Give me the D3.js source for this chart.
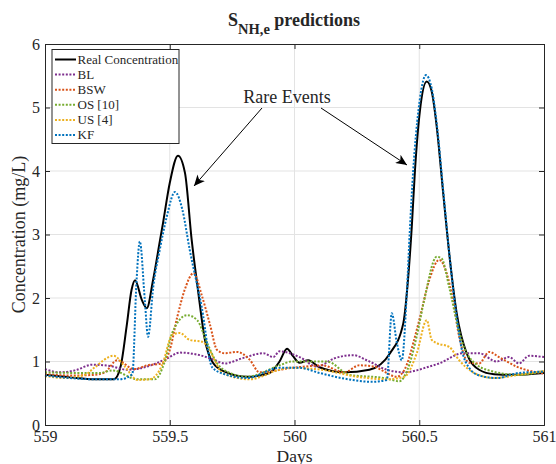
<!DOCTYPE html>
<html>
<head>
<meta charset="utf-8">
<script src="https://cdn.jsdelivr.net/npm/d3@7"></script>
<style>
body { margin: 0; background: #fff; }
text { font-family: "Liberation Serif", "Times New Roman", serif; fill: #262626; }
</style>
</head>
<body>
<div id="chart"></div>
<script>
// [day, mg/L]
var realConc = [[559,0.79],[559.1,0.75],[559.2,0.72],[559.277,0.72],[559.303,0.92],[559.327,1.55],[559.347,2.13],[559.361,2.28],[559.388,1.97],[559.408,1.84],[559.433,2.28],[559.461,2.91],[559.473,3.18],[559.5,3.81],[559.533,4.24],[559.561,3.97],[559.588,2.91],[559.613,2.13],[559.641,1.34],[559.673,0.98],[559.72,0.84],[559.81,0.76],[559.9,0.82],[559.94,1.0],[559.97,1.2],[559.995,1.08],[560.02,0.98],[560.055,1.02],[560.1,0.91],[560.2,0.83],[560.3,0.87],[560.383,1.13],[560.436,1.6],[560.456,2.34],[560.47,3.12],[560.483,4.02],[560.503,4.96],[560.53,5.41],[560.55,5.25],[560.57,4.7],[560.596,3.65],[560.623,2.6],[560.65,1.76],[560.69,1.13],[560.74,0.87],[560.8,0.8],[560.876,0.79],[561,0.82]];
var bl = [[559,0.88],[559.06,0.83],[559.12,0.86],[559.19,0.95],[559.26,0.93],[559.33,0.87],[559.41,0.92],[559.49,1.05],[559.54,1.14],[559.62,1.1],[559.675,1.03],[559.72,0.97],[559.79,1.05],[559.875,1.13],[559.915,1.07],[559.94,1.16],[560.02,1.07],[560.09,0.92],[560.16,1.05],[560.235,1.1],[560.29,1.02],[560.37,0.87],[560.44,0.83],[560.54,0.92],[560.58,0.97],[560.675,1.13],[560.74,1.13],[560.81,1.0],[560.86,1.07],[560.9,0.97],[560.94,1.09],[561,1.07]];
var bsw = [[559,0.8],[559.1,0.78],[559.2,0.79],[559.24,0.83],[559.29,1.02],[559.357,0.88],[559.41,0.94],[559.47,0.97],[559.5,1.18],[559.53,1.7],[559.56,2.13],[559.595,2.39],[559.63,2.02],[559.66,1.6],[559.69,1.18],[559.72,1.13],[559.77,1.15],[559.82,1.03],[559.86,0.83],[559.99,0.9],[560.07,0.93],[560.11,0.94],[560.2,0.83],[560.26,0.94],[560.32,0.92],[560.36,0.84],[560.41,0.76],[560.45,0.95],[560.48,1.35],[560.5,1.65],[560.54,2.28],[560.58,2.6],[560.61,2.39],[560.635,1.97],[560.66,1.39],[560.7,0.98],[560.74,0.97],[560.78,1.15],[560.82,1.07],[560.89,0.92],[561,0.81]];
var os10 = [[559,0.83],[559.13,0.82],[559.22,0.82],[559.27,0.86],[559.37,0.72],[559.44,0.72],[559.48,1.0],[559.51,1.45],[559.57,1.73],[559.61,1.65],[559.65,1.29],[559.69,0.97],[559.72,0.86],[559.81,0.76],[559.94,0.94],[559.99,1.0],[560.13,1.0],[560.22,0.79],[560.36,0.74],[560.42,0.69],[560.46,0.95],[560.49,1.4],[560.52,1.97],[560.57,2.65],[560.59,2.62],[560.62,2.17],[560.655,1.55],[560.69,1.13],[560.77,0.87],[560.9,0.79],[561,0.85]];
var us4 = [[559,0.77],[559.08,0.74],[559.16,0.79],[559.2,0.91],[559.275,1.09],[559.32,0.92],[559.37,0.71],[559.42,0.72],[559.47,0.95],[559.51,1.42],[559.54,1.45],[559.58,1.34],[559.63,1.31],[559.66,1.18],[559.685,0.98],[559.71,0.82],[559.82,0.72],[559.94,0.87],[559.98,0.9],[560.11,0.87],[560.25,0.76],[560.37,0.72],[560.44,0.76],[560.49,1.13],[560.53,1.65],[560.55,1.34],[560.57,1.29],[560.62,1.23],[560.66,1.02],[560.72,0.82],[560.8,0.74],[560.9,0.79],[561,0.85]];
var kf = [[559,0.78],[559.1,0.74],[559.2,0.72],[559.3,0.72],[559.35,0.8],[559.367,2.28],[559.38,2.89],[559.4,1.97],[559.413,1.39],[559.434,2.18],[559.46,2.76],[559.488,3.28],[559.521,3.67],[559.55,3.4],[559.58,2.76],[559.628,1.86],[559.67,0.91],[559.72,0.8],[559.81,0.74],[559.94,0.9],[560.02,0.9],[560.1,0.82],[560.2,0.73],[560.31,0.68],[560.37,0.71],[560.39,1.76],[560.41,1.3],[560.43,1.02],[560.45,2.07],[560.463,3.12],[560.476,4.02],[560.497,4.96],[560.527,5.51],[560.55,5.3],[560.57,4.75],[560.596,3.7],[560.623,2.6],[560.65,1.7],[560.67,1.2],[560.7,0.9],[560.74,0.78],[560.81,0.74],[560.9,0.82],[561,0.84]];

var seriesNames = ["Real Concentration", "BL", "BSW", "OS [10]", "US [4]", "KF"];
var seriesColors = ["#000000", "#7E2F8E", "#D95319", "#77AC30", "#EDB120", "#0072BD"];
var xTicks = [559, 559.5, 560, 560.5, 561];
var yTicks = [0, 1, 2, 3, 4, 5, 6];

var width = 556, height = 464;
var margin = {top: 44, right: 12, bottom: 39, left: 45};
var axisColor = "#262626";

var svg = d3.select("#chart")
    .append("svg")
        .attr("width", width)
        .attr("height", height)

var x = d3.scaleLinear().domain([559, 561]).range([margin.left, width - margin.right])
var y = d3.scaleLinear().domain([0, 6]).range([height - margin.bottom, margin.top])

// grid
svg.append("g")
    .selectAll("line.gx")
    .data(xTicks.slice(1, -1))
    .enter().append("line")
        .attr("x1", function(d) { return x(d) })
        .attr("x2", function(d) { return x(d) })
        .attr("y1", y(0))
        .attr("y2", y(6))
        .attr("stroke", "#e3e3e3")
        .attr("stroke-width", 1)

svg.append("g")
    .selectAll("line.gy")
    .data(yTicks.slice(1, -1))
    .enter().append("line")
        .attr("x1", x(559))
        .attr("x2", x(561))
        .attr("y1", function(d) { return y(d) })
        .attr("y2", function(d) { return y(d) })
        .attr("stroke", "#e3e3e3")
        .attr("stroke-width", 1)

// lines
var line = d3.line()
    .x(function(d) { return x(d[0]) })
    .y(function(d) { return y(d[1]) })
    .curve(d3.curveMonotoneX)

var allSeries = [realConc, bl, bsw, os10, us4, kf];

svg.append("g")
    .selectAll("path")
    .data(allSeries)
    .enter().append("path")
        .attr("d", line)
        .attr("fill", "none")
        .attr("stroke", function(d, i) { return seriesColors[i] })
        .attr("stroke-width", 2)
        .attr("stroke-dasharray", function(d, i) { return i == 0 ? null : "2,1.6" })

// axes (box with inward ticks)
var bottomAxis = d3.axisBottom(x).tickValues(xTicks).tickSize(-5).tickPadding(6).tickFormat(d3.format("~g"))
var leftAxis = d3.axisLeft(y).tickValues(yTicks).tickSize(-5).tickPadding(5).tickFormat(d3.format("d"))
var topAxis = d3.axisTop(x).tickValues(xTicks).tickSize(-5).tickFormat("")
var rightAxis = d3.axisRight(y).tickValues(yTicks).tickSize(-5).tickFormat("")

function styleAxis(g) {
    g.selectAll("path, line").attr("stroke", axisColor)
    g.selectAll("text")
        .style("font-family", "'Liberation Serif', serif")
        .style("font-size", "16px")
        .attr("fill", axisColor)
}

svg.append("g").attr("transform", "translate(0," + y(0) + ")").call(bottomAxis).call(styleAxis)
svg.append("g").attr("transform", "translate(" + x(559) + ",0)").call(leftAxis).call(styleAxis)
svg.append("g").attr("transform", "translate(0," + y(6) + ")").call(topAxis).call(styleAxis)
svg.append("g").attr("transform", "translate(" + x(561) + ",0)").call(rightAxis).call(styleAxis)
svg.selectAll(".domain").attr("stroke-width", 1)

// labels
svg.append("text")
    .attr("x", (x(559) + x(561)) / 2)
    .attr("y", 461.5)
    .attr("text-anchor", "middle")
    .style("font-size", "17.5px")
    .text("Days")

svg.append("text")
    .attr("transform", "translate(25," + ((y(0) + y(6)) / 2) + ") rotate(-90)")
    .attr("text-anchor", "middle")
    .style("font-size", "18px")
    .text("Concentration (mg/L)")

var title = svg.append("text")
    .attr("x", 294)
    .attr("y", 26)
    .attr("text-anchor", "middle")
    .style("font-size", "18px")
    .style("font-weight", "bold")
title.append("tspan").text("S")
title.append("tspan").attr("dy", 8).style("font-size", "14.5px").text("NH,e")
title.append("tspan").attr("dy", -8).text(" predictions")

// annotation
svg.append("defs").append("marker")
    .attr("id", "arrowhead")
    .attr("markerUnits", "userSpaceOnUse")
    .attr("markerWidth", 12)
    .attr("markerHeight", 10)
    .attr("refX", 11)
    .attr("refY", 5)
    .attr("orient", "auto")
    .append("path")
        .attr("d", "M0,0 L11,5 L0,10 L3,5 Z")
        .attr("fill", "#000")

svg.append("text")
    .attr("x", 287)
    .attr("y", 103)
    .attr("text-anchor", "middle")
    .style("font-size", "18px")
    .attr("fill", "#000")
    .text("Rare Events")

var arrows = [[262, 108, 194, 186], [321, 108, 407, 165]];
svg.append("g")
    .selectAll("line")
    .data(arrows)
    .enter().append("line")
        .attr("x1", function(d) { return d[0] })
        .attr("y1", function(d) { return d[1] })
        .attr("x2", function(d) { return d[2] })
        .attr("y2", function(d) { return d[3] })
        .attr("stroke", "#000")
        .attr("stroke-width", 1)
        .attr("marker-end", "url(#arrowhead)")

// legend
var legend = svg.append("g").attr("transform", "translate(52,49.5)")

legend.append("rect")
    .attr("width", 127)
    .attr("height", 94)
    .attr("fill", "#fff")
    .attr("stroke", axisColor)
    .attr("stroke-width", 1)

var rows = legend.selectAll("g.row")
    .data(seriesNames)
    .enter().append("g")
        .attr("transform", function(d, i) { return "translate(0," + (10 + i * 15.1) + ")" })

rows.append("line")
    .attr("x1", 3)
    .attr("x2", 24)
    .attr("stroke", function(d, i) { return seriesColors[i] })
    .attr("stroke-width", 2)
    .attr("stroke-dasharray", function(d, i) { return i == 0 ? null : "2,1.6" })

rows.append("text")
    .attr("x", 25.5)
    .attr("dy", "0.33em")
    .style("font-size", "13px")
    .attr("fill", "#000")
    .text(function(d) { return d })
</script>
</body>
</html>
